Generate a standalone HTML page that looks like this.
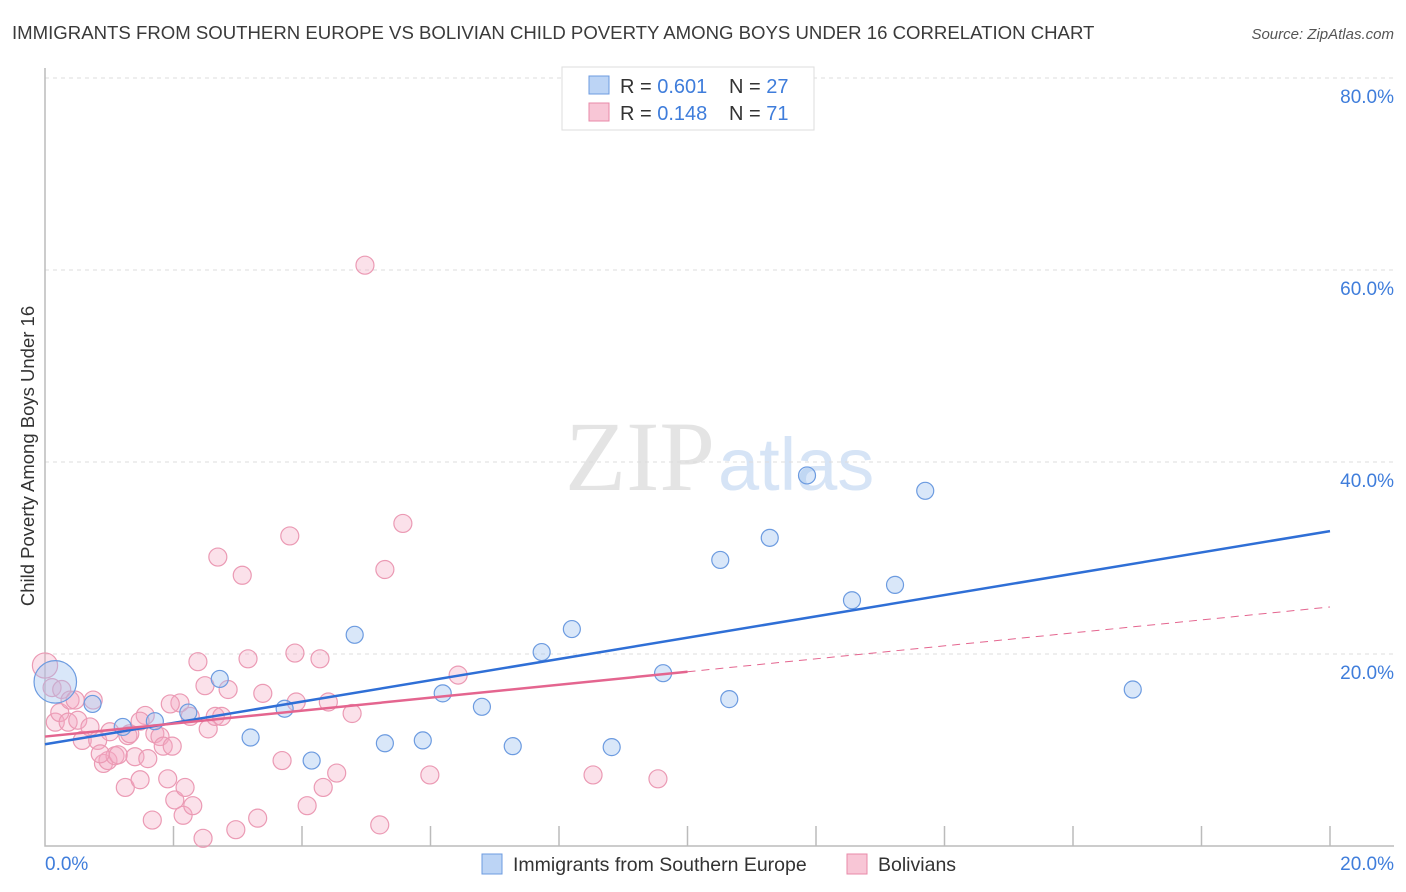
<!DOCTYPE html>
<html><head><meta charset="utf-8"><style>
body{margin:0;background:#fff;font-family:"Liberation Sans",sans-serif}
svg{display:block}
</style></head><body>
<svg id="chart" width="1406" height="892">
<text x="12" y="39" font-size="18.6" fill="#3a3a3a">IMMIGRANTS FROM SOUTHERN EUROPE VS BOLIVIAN CHILD POVERTY AMONG BOYS UNDER 16 CORRELATION CHART</text>
<text x="1394" y="39" font-size="15" fill="#555" text-anchor="end" font-style="italic">Source: ZipAtlas.com</text>
<text x="34" y="456" font-size="18.5" fill="#333" text-anchor="middle" transform="rotate(-90 34 456)">Child Poverty Among Boys Under 16</text>
<text x="715" y="490" font-size="100" fill="#e4e4e4" text-anchor="end" font-family="Liberation Serif,serif">ZIP</text>
<text x="718" y="490" font-size="74" fill="#d6e4f6">atlas</text>
<g id="grid"></g><g id="marks"></g>
<g>
<rect x="562" y="67" width="252" height="63" fill="#fff" stroke="#ddd"/>
<rect x="589" y="76" width="20" height="18" fill="#bcd4f5" stroke="#6c9be0"/>
<rect x="589" y="103" width="20" height="18" fill="#f8c6d6" stroke="#e88aa8"/>
<text x="620" y="93" font-size="20" fill="#333">R = <tspan fill="#3f7ddb">0.601</tspan></text>
<text x="729" y="93" font-size="20" fill="#333">N = <tspan fill="#3f7ddb">27</tspan></text>
<text x="620" y="120" font-size="20" fill="#333">R = <tspan fill="#3f7ddb">0.148</tspan></text>
<text x="729" y="120" font-size="20" fill="#333">N = <tspan fill="#3f7ddb"> 71</tspan></text>
</g>
<g>
<rect x="482" y="854" width="20" height="20" fill="#bcd4f5" stroke="#6c9be0"/>
<text x="513" y="871" font-size="19.5" fill="#333">Immigrants from Southern Europe</text>
<rect x="847" y="854" width="20" height="20" fill="#f8c6d6" stroke="#e88aa8"/>
<text x="878" y="871" font-size="19.5" fill="#333">Bolivians</text>
</g>
</svg>
<script>
const yTicks=[20,40,60,80];
const xTickLabels=["0.0%","20.0%"];
const blueX=[0.16,0.74,1.21,1.71,2.23,2.72,3.2,3.73,4.15,4.82,5.29,5.88,6.19,6.8,7.28,7.73,8.2,8.82,9.62,10.51,10.65,11.28,11.86,12.56,13.23,13.7,16.93];
const blueY=[17.1,14.8,12.4,13.0,13.9,17.4,11.3,14.3,8.9,22.0,10.7,11.0,15.9,14.5,10.4,20.2,22.6,10.3,18.0,29.8,15.3,32.1,38.6,25.6,27.2,37.0,16.3];
const blueR=[2.5,1,1,1,1,1,1,1,1,1,1,1,1,1,1,1,1,1,1,1,1,1,1,1,1,1,1];
const pinkX=[0.0,0.11,0.26,0.16,0.23,0.39,0.47,0.36,0.51,0.58,0.7,0.75,0.82,0.91,0.98,1.01,1.09,1.14,1.25,1.29,1.32,1.4,1.48,1.56,1.6,1.67,1.71,1.79,1.84,1.91,1.98,2.02,2.1,2.15,2.18,2.26,2.3,2.38,2.46,2.49,2.54,2.65,2.69,2.75,2.85,2.97,3.07,3.16,3.31,3.39,3.69,3.81,3.89,3.91,4.08,4.28,4.33,4.41,4.54,4.78,4.98,5.21,5.29,5.57,5.99,6.43,8.53,9.54,0.86,1.48,1.95];
const pinkY=[18.8,16.5,16.3,12.9,13.9,15.2,15.2,12.9,13.1,11.0,12.4,15.2,11.0,8.6,8.9,11.9,9.4,9.5,6.1,11.5,11.7,9.3,6.9,13.6,9.1,2.7,11.7,11.4,10.4,7.0,10.4,4.8,14.9,3.2,6.1,13.5,4.2,19.2,0.8,16.7,12.2,13.5,30.1,13.5,16.3,1.7,28.2,19.5,2.9,15.9,8.9,32.3,20.1,15.0,4.2,19.5,6.1,15.0,7.6,13.8,60.5,2.2,28.8,33.6,7.4,17.8,7.4,7.0,9.6,13.0,14.8];
const pinkR=[1.4].concat(Array(70).fill(1));
const ns="http://www.w3.org/2000/svg";
const x0=45,x1=1330,yb=846,pxPer=192/20;
const sx=v=>x0+(v/20)*(x1-x0);
const sy=v=>yb-v*pxPer;
const grid=document.getElementById('grid'),marks=document.getElementById('marks');
function mk(tag,attrs,parent){const e=document.createElementNS(ns,tag);for(const k in attrs)e.setAttribute(k,attrs[k]);parent.appendChild(e);return e;}
yTicks.forEach(t=>{
 const l=mk('line',{x1:45,x2:1394,y1:sy(t),y2:sy(t),stroke:'#ddd','stroke-dasharray':'4,4'},grid);
 
 
 const tx=mk('text',{x:1394,y:sy(t)+25,'font-size':19,fill:'#3f7ddb','text-anchor':'end'},grid);
 tx.textContent=t.toFixed(1)+'%';
 
 
});
const ax=mk('path',{d:`M45 68 V846 H1394`,stroke:'#bbb',fill:'none','stroke-width':1.5},grid);


for(let i=1;i<=10;i++){const t=mk('line',{x1:sx(i*2),x2:sx(i*2),y1:826,y2:846,stroke:'#bbb','stroke-width':1.5},grid);
 
 }
[[0,'start',45],[20,'end',1394]].forEach((d,i)=>{const t=mk('text',{x:d[2],y:870,'font-size':19,fill:'#3f7ddb','text-anchor':d[1]},grid);t.textContent=xTickLabels[i];
 
 });
pinkX.forEach((v,i)=>{const c=mk('circle',{cx:sx(v),cy:sy(pinkY[i]),r:9*pinkR[i],fill:'rgba(244,170,195,0.35)',stroke:'#eb9ab4','stroke-width':1.2},marks);
 
 });
blueX.forEach((v,i)=>{const c=mk('circle',{cx:sx(v),cy:sy(blueY[i]),r:8.5*blueR[i],fill:'rgba(160,195,240,0.4)',stroke:'#6c9be0','stroke-width':1.2},marks);
 
 });
const bf=[(32.8-10.6)/20,10.6], pf=[(24.9-11.4)/20,11.4];
const bl=mk('line',{x1:sx(0),y1:sy(bf[1]),x2:sx(20),y2:sy(bf[1]+bf[0]*20),stroke:'#2f6fd6','stroke-width':2.5},marks);


const pl=mk('line',{x1:sx(0),y1:sy(pf[1]),x2:sx(10),y2:sy(pf[1]+pf[0]*10),stroke:'#e4658f','stroke-width':2.5},marks);


const pd=mk('line',{x1:sx(10),y1:sy(pf[1]+pf[0]*10),x2:sx(20),y2:sy(pf[1]+pf[0]*20),stroke:'#e4658f','stroke-width':1,'stroke-dasharray':'8,6'},marks);


</script>
</body></html>
